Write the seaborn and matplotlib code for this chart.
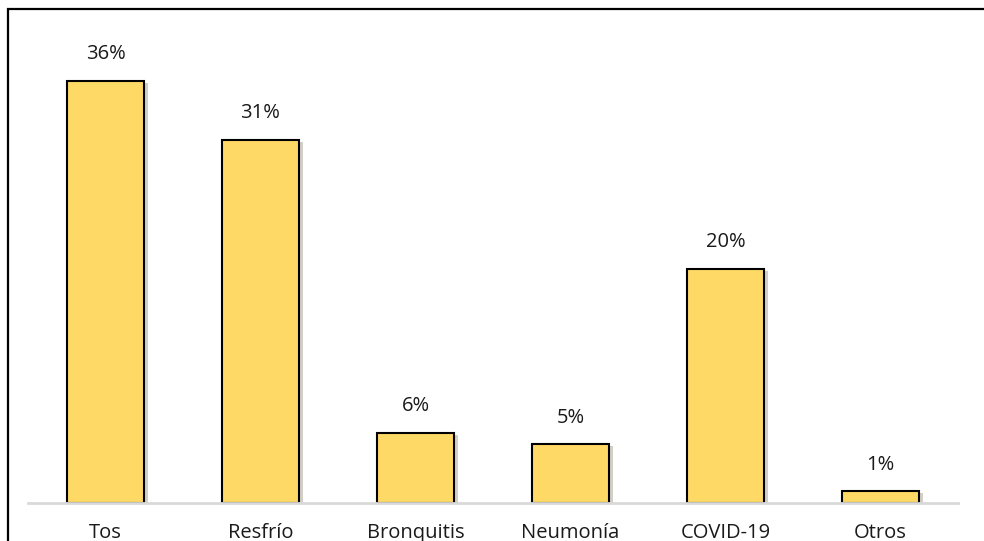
import matplotlib
matplotlib.use("Agg")
import matplotlib.pyplot as plt
import matplotlib.patheffects as pe
from matplotlib.patches import Rectangle
import seaborn as sns
import pandas as pd

categorias = ["Tos", "Resfrío", "Bronquitis", "Neumonía", "COVID-19", "Otros"]
porcentajes = [36, 31, 6, 5, 20, 1]
etiquetas = ["36%", "31%", "6%", "5%", "20%", "1%"]

df = pd.DataFrame({"categoria": categorias, "pct": porcentajes})

sns.set_style("white")
plt.rcParams["font.family"] = ["Open Sans", "DejaVu Sans"]

W, H = 984, 541
fig = plt.figure(figsize=(W / 100, H / 100), dpi=100)
ax = fig.add_axes([28 / W, 38 / H, 930 / W, 483 / H])

sns.barplot(data=df, x="categoria", y="pct", color="#FFD966", saturation=1,
            edgecolor="black", linewidth=1.5, width=0.5, ax=ax)

for p in ax.patches:
    p.set_path_effects([pe.SimplePatchShadow(offset=(2.5, -1.5), alpha=0.25), pe.Normal()])

ax.bar_label(ax.containers[0], labels=etiquetas, padding=12, fontsize=14.5, color="#1a1a1a")

ax.set_xlim(-0.5, 5.5)
ax.set_ylim(0, 41.2)
ax.set_xlabel("")
ax.set_ylabel("")
ax.set_yticks([])
for s in ["top", "right", "left"]:
    ax.spines[s].set_visible(False)
ax.spines["bottom"].set_color("#D9D9D9")
ax.spines["bottom"].set_linewidth(2)
ax.tick_params(axis="x", length=0, pad=14.5, labelsize=14.5, labelcolor="#1a1a1a")

fig.add_artist(Rectangle((8 / W, -0.1), 1.2, 1.1 - 9.5 / H, transform=fig.transFigure,
                         fill=False, edgecolor="black", linewidth=1.6))

fig.savefig("out.png", dpi=100)
